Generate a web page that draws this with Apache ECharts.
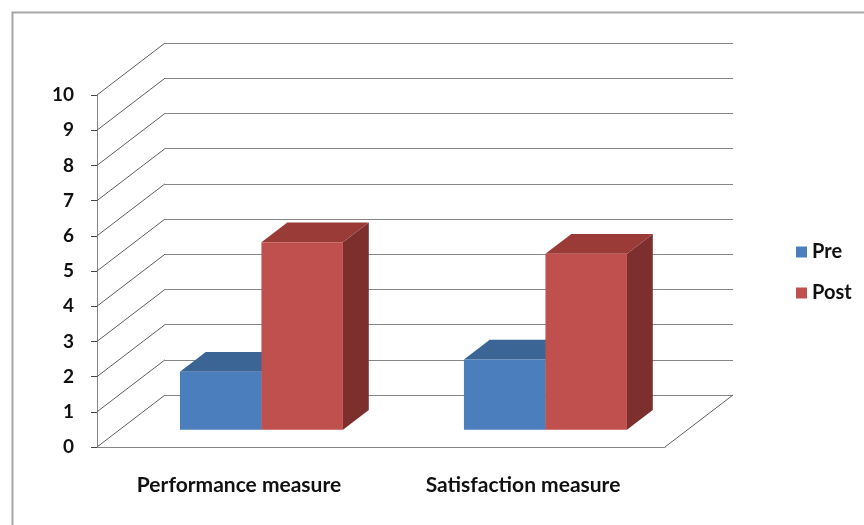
<!DOCTYPE html>
<html>
<head>
<meta charset="utf-8">
<style>
  html, body { margin: 0; padding: 0; background: #fff; }
  #chart { width: 864px; height: 525px; }
</style>
<script src="https://cdn.jsdelivr.net/npm/echarts@6/dist/echarts.min.js"></script>
</head>
<body>
<div id="chart"></div>
<script>
// Pre / post scores for the two measures
const categories = ['Performance measure', 'Satisfaction measure'];
const seriesNames = ['Pre', 'Post'];
const preValues = [1.65, 2.0];
const postValues = [5.33, 5.0];
const yTicks = [0, 1, 2, 3, 4, 5, 6, 7, 8, 9, 10];

// 3-D look: front plane grid, back wall offset, bar depth slots
const FRONT = { left: 97, top: 95, width: 568, height: 352 };
const DEPTH = { x: 68, y: -52 };            // full depth of the floor
const BAR_FRONT = 0.33, BAR_BACK = 0.71;    // bar slab position along depth
const GROUP_FRAC = 0.574;                   // share of a category band used by the bar pair
const FONT = 'Lato, "Open Sans", sans-serif';

const colors = {
  Pre:  { front: '#4a7ebd', top: '#3b6594', side: '#335782' },
  Post: { front: '#c0504d', top: '#9a3b38', side: '#7c2f2d' }
};

function barItem(side) {
  return function (params, api) {
    const ci = api.value(0), v = api.value(1);
    const top = api.coord([ci, v]);
    const base = api.coord([ci, 0]);
    const band = api.size([1, 0])[0];
    const half = band * GROUP_FRAC / 2;
    const x0 = side === 0 ? top[0] - half : top[0];
    const x1 = x0 + half;
    const fx = DEPTH.x * BAR_FRONT, fy = DEPTH.y * BAR_FRONT;
    const bx = DEPTH.x * BAR_BACK,  by = DEPTH.y * BAR_BACK;
    const c = colors[seriesNames[side]];
    return {
      type: 'group',
      children: [
        { type: 'polygon', shape: { points: [
            [x1 + fx, top[1] + fy], [x1 + bx, top[1] + by],
            [x1 + bx, base[1] + by], [x1 + fx, base[1] + fy]] },
          style: { fill: c.side } },
        { type: 'polygon', shape: { points: [
            [x0 + fx, top[1] + fy], [x0 + bx, top[1] + by],
            [x1 + bx, top[1] + by], [x1 + fx, top[1] + fy]] },
          style: { fill: c.top } },
        { type: 'rect', shape: { x: x0 + fx, y: top[1] + fy, width: x1 - x0, height: base[1] - top[1] },
          style: { fill: c.front } }
      ]
    };
  };
}

// Diagonal lines of the left wall, one per value tick
function wallItem(params, api) {
  const p = api.coord([0, api.value(0)]);
  const band = api.size([1, 0])[0];
  const x = p[0] - band / 2;
  return { type: 'line', shape: { x1: x, y1: p[1], x2: x + DEPTH.x, y2: p[1] + DEPTH.y },
           style: { stroke: '#5e5e5e', lineWidth: 1 } };
}

// Right edge of the floor
function floorItem(params, api) {
  const p = api.coord([categories.length - 1, 0]);
  const band = api.size([1, 0])[0];
  const x = p[0] + band / 2;
  return { type: 'line', shape: { x1: x, y1: p[1], x2: x + DEPTH.x, y2: p[1] + DEPTH.y },
           style: { stroke: '#5e5e5e', lineWidth: 1 } };
}

const chart = echarts.init(document.getElementById('chart'), null, { renderer: 'canvas' });
chart.setOption({
  animation: false,
  backgroundColor: '#fff',
  graphic: [{
    type: 'rect', left: 10, top: 10, shape: { width: 900, height: 600 },
    style: { fill: 'none', stroke: '#a6a6a6', lineWidth: 2 }, silent: true
  }],
  legend: {
    data: seriesNames, orient: 'vertical', left: 791, top: 237,
    itemWidth: 11, itemHeight: 11, itemGap: 21, icon: 'rect',
    textStyle: { fontFamily: FONT, fontSize: 20, fontWeight: 'bold', color: '#111' }
  },
  grid: [
    { left: FRONT.left, top: FRONT.top, width: FRONT.width, height: FRONT.height },
    { left: FRONT.left + DEPTH.x, top: FRONT.top + DEPTH.y, width: FRONT.width, height: FRONT.height }
  ],
  xAxis: [
    { type: 'category', gridIndex: 0, data: categories, boundaryGap: true,
      axisLine: { lineStyle: { color: '#858585', width: 1 } },
      axisTick: { length: 6, lineStyle: { color: '#858585' } },
      axisLabel: { margin: 28, fontFamily: FONT, fontSize: 21, fontWeight: 'bold', color: '#111' } },
    { type: 'category', gridIndex: 1, data: categories, show: false }
  ],
  yAxis: [
    { type: 'value', gridIndex: 0, min: 0, max: 10, interval: 1,
      axisLine: { show: true, lineStyle: { color: '#858585', width: 1 } },
      axisTick: { show: true, length: 6, lineStyle: { color: '#444' } },
      splitLine: { show: false },
      axisLabel: { margin: 23, fontFamily: FONT, fontSize: 19, fontWeight: 'bold', color: '#111',
                   formatter: v => String(yTicks[v]) } },
    { type: 'value', gridIndex: 1, min: 0, max: 10, interval: 1,
      axisLine: { show: false }, axisTick: { show: false }, axisLabel: { show: false },
      splitLine: { show: true, lineStyle: { color: '#868686', width: 1 } } }
  ],
  series: [
    { type: 'custom', name: 'wall', xAxisIndex: 0, yAxisIndex: 0, silent: true, z: 1,
      data: yTicks.map(v => [v]), encode: { y: 0 }, renderItem: wallItem },
    { type: 'custom', name: 'floor', xAxisIndex: 0, yAxisIndex: 0, silent: true, z: 1,
      data: [[categories.length - 1, 0]], renderItem: floorItem },
    { type: 'custom', name: 'Pre', xAxisIndex: 0, yAxisIndex: 0, z: 3,
      itemStyle: { color: colors.Pre.front },
      data: preValues.map((v, i) => [i, v]), renderItem: barItem(0) },
    { type: 'custom', name: 'Post', xAxisIndex: 0, yAxisIndex: 0, z: 4,
      itemStyle: { color: colors.Post.front },
      data: postValues.map((v, i) => [i, v]), renderItem: barItem(1) }
  ]
});
</script>
</body>
</html>
